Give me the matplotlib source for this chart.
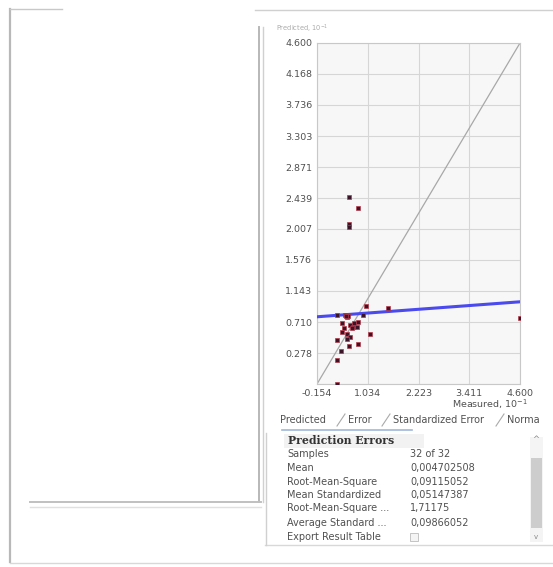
import matplotlib
matplotlib.use("Agg")
import matplotlib.pyplot as plt
from matplotlib.lines import Line2D
from matplotlib.patches import Rectangle

# ---- data ----
measured = [0.60, 0.81, 0.60, 0.60, 0.99, 1.50, 0.31, 0.50, 0.54, 0.58, 0.93,
            0.42, 0.62, 0.70, 0.81, 0.78, 0.42, 0.54, 1.09, 0.31, 0.62, 0.81,
            0.60, 0.41, 0.31, 0.31, 4.60, 0.66, 0.48, 0.52, 0.72, 0.56]
predicted = [2.46, 2.30, 2.08, 2.04, 0.94, 0.91, 0.81, 0.81, 0.78, 0.80, 0.81,
             0.69, 0.67, 0.64, 0.71, 0.64, 0.57, 0.55, 0.55, 0.46, 0.50, 0.40,
             0.37, 0.30, 0.18, -0.15, 0.77, 0.62, 0.62, 0.79, 0.70, 0.48]
regression_x = [-0.154, 4.600]
regression_y = [0.783, 0.992]
x_ticks = [-0.154, 1.034, 2.223, 3.411, 4.600]
x_tick_labels = ["-0.154", "1.034", "2.223", "3.411", "4.600"]
y_ticks = [-0.154, 0.278, 0.710, 1.143, 1.576, 2.007, 2.439, 2.871, 3.303,
           3.736, 4.168, 4.600]
y_tick_labels = ["", "0.278", "0.710", "1.143", "1.576", "2.007", "2.439",
                 "2.871", "3.303", "3.736", "4.168", "4.600"]
tabs = ["Predicted", "Error", "Standardized Error", "Norma"]
row_labels = ["Samples", "Mean", "Root-Mean-Square", "Mean Standardized",
              "Root-Mean-Square ...", "Average Standard ...", "Export Result Table"]
row_values = ["32 of 32", "0,004702508", "0,09115052", "0,05147387",
              "1,71175", "0,09866052", ""]

W, H = 553, 567
fig = plt.figure(figsize=(W / 100, H / 100), dpi=100)
fig.patch.set_facecolor("white")

def px(x, y):
    return x / W, 1 - y / H

def hline(x0, x1, y, color="#c0c0c0", lw=1.0):
    a, b = px(x0, y)
    c, _ = px(x1, y)
    fig.add_artist(Line2D([a, c], [b, b], color=color, lw=lw, transform=fig.transFigure))

def vline(x, y0, y1, color="#c0c0c0", lw=1.0):
    a, b = px(x, y0)
    _, d = px(x, y1)
    fig.add_artist(Line2D([a, a], [b, d], color=color, lw=lw, transform=fig.transFigure))

# ---- window frame ----
vline(10, 9, 562, "#b8b8b8", 1.6)
hline(10, 62, 9, "#c8c8c8", 1.0)
hline(255, 553, 10, "#d0d0d0", 1.0)
vline(259, 27, 502, "#b8b8b8", 1.4)
vline(263, 27, 502, "#d0d0d0", 1.0)
hline(30, 261, 502, "#c0c0c0", 1.4)
hline(30, 261, 507, "#e0e0e0", 1.0)
hline(10, 553, 563, "#d8d8d8", 1.0)
hline(265, 553, 545, "#d8d8d8", 1.0)

TXT = "#505050"

# ---- plot ----
l, t = px(317, 43)
r, b = px(520, 384)
ax = fig.add_axes([l, b, r - l, t - b])
ax.set_facecolor("#f7f7f7")
ax.set_xlim(-0.154, 4.600)
ax.set_ylim(-0.154, 4.600)
ax.set_xticks(x_ticks)
ax.set_xticklabels(x_tick_labels)
ax.set_yticks(y_ticks)
ax.set_yticklabels(y_tick_labels)
ax.tick_params(length=0, labelsize=6.8, colors=TXT, pad=3.5)
ax.grid(True, color="#d6d6d6", lw=0.8)
ax.set_axisbelow(True)
for s in ax.spines.values():
    s.set_color("#c8c8c8")
    s.set_linewidth(0.8)

ax.plot([-0.154, 4.600], [-0.154, 4.600], color="#a8a8a8", lw=0.9, zorder=2)
ax.plot(regression_x, regression_y, color="#4a4aee", lw=2.2, zorder=3)
ax.plot(measured, predicted, linestyle="none", marker="s", ms=2.6,
        markerfacecolor="#3c1428", markeredgecolor="#b83848", mew=0.5, zorder=4)

fig.text(*px(276, 29), "Predicted, 10$^{-1}$", fontsize=4.8, color="#aaaaaa",
         va="center", ha="left")
fig.text(*px(528, 404), "Measured, 10$^{-1}$", fontsize=6.8, color=TXT,
         va="center", ha="right")

# ---- tabs ----
tab_x = [280, 348, 393, 507]
for x, name in zip(tab_x, tabs):
    fig.text(*px(x, 420), name, fontsize=7.0, color=TXT, va="center", ha="left")
for x in [341, 386, 500]:
    a, b1 = px(x - 4, 426)
    c, d = px(x + 4, 414)
    fig.add_artist(Line2D([a, c], [b1, d], color="#aaaaaa", lw=0.8, transform=fig.transFigure))
hline(282, 412, 430, "#9fb8d8", 1.2)

# ---- table ----
vline(266, 433, 545, "#d0d0d0", 1.0)
fig.add_artist(Rectangle(px(284, 448), 140 / W, 14 / H, transform=fig.transFigure,
                         facecolor="#f2f2f2", edgecolor="none"))
fig.text(*px(288, 441), "Prediction Errors", fontsize=7.8, color="#333333",
         fontweight="bold", family="DejaVu Serif", va="center", ha="left")
row_y = [454, 468, 482, 495, 508, 523, 537]
for y, lab, val in zip(row_y, row_labels, row_values):
    fig.text(*px(287, y), lab, fontsize=7.0, color=TXT, va="center", ha="left")
    if val:
        fig.text(*px(410, y), val, fontsize=7.0, color=TXT, va="center", ha="left")
fig.add_artist(Rectangle(px(410, 541), 8 / W, 8 / H, transform=fig.transFigure,
                         facecolor="#f4f4f4", edgecolor="#bbbbbb", lw=0.6))
# scrollbar
fig.add_artist(Rectangle(px(530, 542), 13 / W, 105 / H, transform=fig.transFigure,
                         facecolor="#f4f4f4", edgecolor="none"))
fig.add_artist(Rectangle(px(531, 528), 11 / W, 70 / H, transform=fig.transFigure,
                         facecolor="#cdcdcd", edgecolor="none"))
fig.text(*px(536, 439), "^", fontsize=6, color="#888888", va="center", ha="center")
fig.text(*px(536, 537), "v", fontsize=5, color="#888888", va="center", ha="center")

fig.savefig("out.png", dpi=100, facecolor="white")
